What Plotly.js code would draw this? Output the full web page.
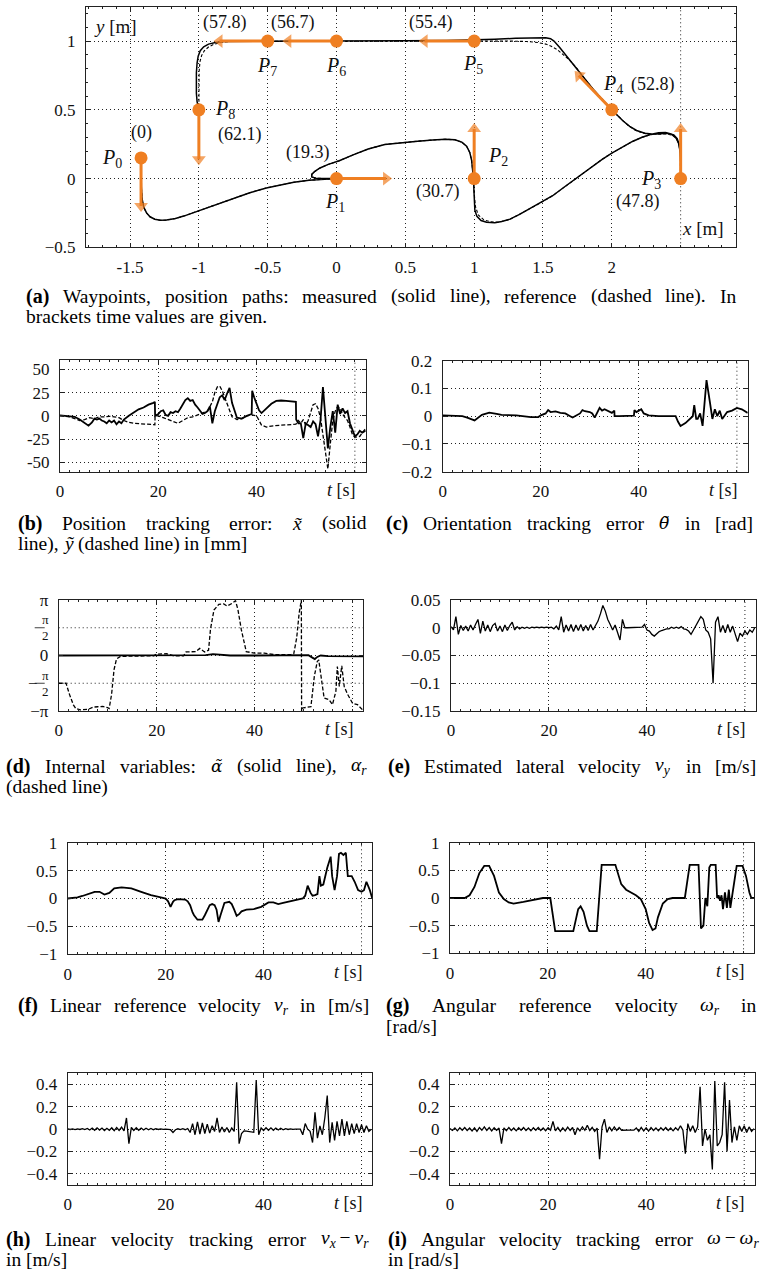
<!DOCTYPE html>
<html><head><meta charset="utf-8">
<script src="https://cdn.plot.ly/plotly-3.0.1.min.js"></script>
<style>html,body{margin:0;padding:0;background:#fff;}#plot{width:770px;height:1276px;}</style>
</head><body><div id="plot"></div>
<script>
// ---------------- DATA ----------------
// (a) waypoints (x,y in m), arrow tips, labels
const wpX = [-1.42, 0, 1, 2.5, 2, 1, 0, -0.5, -1];
const wpY = [0.15, 0, 0, 0, 0.5, 1, 1, 1, 0.5];
const wpTipX = [-1.42, 0.36, 1, 2.5, 1.76, 0.64, -0.35, -0.85, -1];
const wpTipY = [-0.2, 0, 0.36, 0.36, 0.75, 1, 1, 1, 0.14];
const wpNames = ['0','1','2','3','4','5','6','7','8'];
const wpNameX = [-1.633, -0.012, 1.173, 2.286, 2.01, 0.991, -0.007, -0.508, -0.81];
const wpNameY = [0.145, -0.172, 0.162, -0.007, 0.681, 0.826, 0.814, 0.814, 0.5];
const timeLabels = ['(0)','(19.3)','(30.7)','(47.8)','(52.8)','(55.4)','(56.7)','(57.8)','(62.1)'];
const timeLabelX = [-1.42, -0.206, 0.737, 2.189, 2.298, 0.689, -0.315, -0.81, -0.70];
const timeLabelY = [0.338, 0.186, -0.092, -0.164, 0.681, 1.133, 1.133, 1.133, 0.319];

// (a) measured path [x,y]
const pathMeasured = [
 [-1.42,0.15],[-1.42,0.05],[-1.418,-0.06],[-1.412,-0.15],[-1.40,-0.21],[-1.38,-0.25],[-1.355,-0.278],[-1.32,-0.296],[-1.28,-0.304],[-1.235,-0.302],[-1.17,-0.29],[-1.11,-0.273],[-1.03,-0.245],[-0.94,-0.213],[-0.85,-0.18],[-0.75,-0.142],[-0.63,-0.103],[-0.51,-0.068],[-0.41,-0.045],[-0.31,-0.027],[-0.2,-0.012],[-0.1,-0.004],[0,0],
 [-0.08,0.0],[-0.15,0.003],[-0.18,0.012],[-0.18,0.03],[-0.16,0.05],[-0.12,0.077],[-0.06,0.103],[0.02,0.13],[0.12,0.172],[0.23,0.215],[0.35,0.248],[0.47,0.262],[0.59,0.272],[0.70,0.28],[0.79,0.286],[0.86,0.282],[0.91,0.265],[0.945,0.235],[0.968,0.19],[0.982,0.13],[0.99,0.06],[0.995,0.0],[0.998,-0.08],[1.0,-0.16],[1.005,-0.23],[1.02,-0.275],[1.05,-0.305],[1.09,-0.318],[1.15,-0.321],[1.2,-0.313],[1.26,-0.295],[1.33,-0.26],[1.4,-0.222],[1.48,-0.178],[1.57,-0.125],[1.65,-0.065],[1.72,-0.013],[1.79,0.04],[1.86,0.09],[1.93,0.14],[2.0,0.185],[2.08,0.23],[2.15,0.27],[2.22,0.3],[2.28,0.32],[2.34,0.333],[2.39,0.335],[2.43,0.325],[2.465,0.3],[2.485,0.258],[2.497,0.19],[2.503,0.1],[2.505,0.0],
 [2.505,0.1],[2.5,0.17],[2.492,0.24],[2.475,0.29],[2.45,0.318],[2.41,0.33],[2.35,0.326],[2.29,0.324],[2.24,0.33],[2.18,0.35],[2.13,0.38],[2.08,0.42],[2.04,0.46],[2.0,0.5],[1.93,0.575],[1.86,0.655],[1.8,0.73],[1.74,0.81],[1.68,0.885],[1.62,0.955],[1.58,1.0],[1.555,1.017],[1.52,1.024],[1.45,1.024],[1.3,1.02],[1.15,1.013],[1.0,1.008],[0.8,1.004],[0.5,1.002],[0.2,1.001],[0.0,1.0],[-0.3,1.0],[-0.5,1.0],[-0.65,1.0],[-0.75,0.999],[-0.82,0.997],[-0.88,0.99],[-0.93,0.978],[-0.965,0.958],[-0.99,0.93],[-1.005,0.89],[-1.013,0.84],[-1.018,0.77],[-1.02,0.69],[-1.018,0.62],[-1.013,0.56],[-1.008,0.52],[-1.0,0.5]
];
// (a) reference path [x,y]
const pathReference = [
 [-1.42,0.15],[-1.42,0.05],[-1.418,-0.06],[-1.412,-0.15],[-1.40,-0.21],[-1.38,-0.25],[-1.355,-0.278],[-1.32,-0.296],[-1.28,-0.304],[-1.235,-0.302],[-1.17,-0.29],[-1.11,-0.273],[-1.03,-0.245],[-0.94,-0.213],[-0.85,-0.18],[-0.75,-0.142],[-0.63,-0.103],[-0.51,-0.068],[-0.41,-0.045],[-0.31,-0.027],[-0.2,-0.012],[-0.1,-0.004],[0,0],
 [-0.08,0.0],[-0.15,0.003],[-0.18,0.012],[-0.18,0.03],[-0.16,0.05],[-0.12,0.077],[-0.06,0.103],[0.02,0.13],[0.12,0.172],[0.23,0.215],[0.35,0.248],[0.47,0.262],[0.59,0.272],[0.70,0.28],[0.79,0.286],[0.86,0.282],[0.91,0.265],[0.945,0.235],[0.968,0.19],[0.982,0.13],[0.99,0.06],[0.995,0.0],[1.0,-0.1],[1.008,-0.2],[1.03,-0.265],[1.07,-0.3],[1.12,-0.315],[1.18,-0.318],[1.26,-0.297],[1.33,-0.26],[1.4,-0.222],[1.48,-0.178],[1.57,-0.125],[1.65,-0.065],[1.72,-0.013],[1.79,0.04],[1.86,0.09],[1.93,0.14],[2.0,0.185],[2.08,0.23],[2.15,0.27],[2.22,0.3],[2.28,0.318],[2.34,0.328],[2.4,0.33],[2.44,0.318],[2.47,0.29],[2.488,0.25],[2.497,0.18],[2.5,0.09],[2.5,0.0],
 [2.5,0.1],[2.497,0.18],[2.488,0.25],[2.47,0.29],[2.44,0.315],[2.4,0.325],[2.34,0.322],[2.28,0.322],[2.22,0.332],[2.17,0.352],[2.12,0.385],[2.07,0.428],[2.035,0.465],[2.0,0.5],[1.93,0.575],[1.86,0.655],[1.8,0.73],[1.74,0.81],[1.69,0.865],[1.64,0.91],[1.6,0.94],[1.56,0.962],[1.52,0.978],[1.46,0.99],[1.38,0.997],[1.25,1.0],[1.0,1.0],[0.5,1.0],[0.0,1.0],[-0.5,1.0],[-0.7,1.0],[-0.78,0.997],[-0.84,0.99],[-0.89,0.977],[-0.93,0.957],[-0.96,0.93],[-0.98,0.895],[-0.992,0.85],[-0.998,0.78],[-1.0,0.69],[-1.0,0.5]
];

// (b) position tracking error [mm]
const bxT = [0,1,2,3,4,5,5.8,6.5,7,7.5,8,8.5,9,9.5,10,10.5,11,11.5,12,12.5,13,14,15,16,17,18,19,19.3,19.35,20,20.5,21,21.5,22,22.5,23,23.5,24,24.5,25,25.5,26,26.5,27,27.5,28,28.5,29,29.5,30,30.5,31,31.5,32,32.5,33,33.5,34,34.5,35,35.5,36,37,38,39,39.1,39.5,40,40.5,41,42,43,44,45,46,47,48,48.05,48.5,49,49.5,50,50.5,51,51.5,52,52.5,53,53.5,53.8,54,54.5,55,55.5,56,56.5,57,57.5,58,58.5,59,59.5,60,60.5,61,61.5,62,62.2];
const bxV = [0.5,0,-1,-1,-4,-8,-10.5,-7,-3,-4,-3,-5,-6,-8,-5,-7,-5,-9,-6,-8,-4,0,4,7,9,12,14,15,0,2,5,6,1,0,4,3,5,4,8,12,17,19,16,17,12,9,5,2,3,5,10,-8,5,12,20,22,17,24,30,14,5,-2,-3,0,2,27,20,13,6,3,8,13,16,16.5,16,15.5,15,-4,-8,-8,-24,-8,-10,-12,-6,-9,-22,-5,31,10,-10,-35,-12,5,-18,12,2,8,3,5,-8,-15,-22,-20,-16,-18,-17,-16];
const byT = [0,2,3,4,5,6,7,8,9,10,11,12,13,14,15,17,19.3,19.35,20,21,22,23,24,25,26,27,28,29,30,31,31.5,32,32.5,33,33.5,34,34.5,35,36,37,38,39,40,40.5,41,42,43,45,47,48,48.5,49,49.5,50,50.5,51,51.5,52,52.5,53,53.5,54,54.5,55,55.5,56,56.5,57,57.5,58,58.5,59,59.5,60,61,61.5,62,62.2];
const byV = [0,-1,-3,-5,-4,-2,-3,-1,-1,-0.5,-1,-2,-5,-7,-8,-8.5,-9.5,0,0,-2,-4,-6,-8,-5,-2,-1,1,3,5,15,25,31,32,27,20,12,5,-1,-4,-3,0,1,0,-5,-10,-12,-11,-10,-9,-9,-5,-8,-4,-10,-5,5,12,13,8,-2,-20,-40,-57,-30,-5,5,10,8,2,-2,-5,-12,-20,-23,-22,-18,-15,-16];

// (c) orientation tracking error [rad]
const cT = [0,4,5,6.5,8,9.5,11,12,15,18,19.5,20,21,21.5,22,23,24,25,26,26.5,28,28.5,29,30,30.5,31,32,32.5,33,34.5,35,35.05,36,38,39,39.1,39.5,40,40.5,41,42,44,47.5,48,48.5,49.5,50.5,51,51.3,51.7,52,52.5,53,53.8,54.5,55,55.5,56,56.5,57,58,59,60,61,62.2];
const cV = [0.003,0,-0.005,-0.015,0.005,0.013,0.008,0.005,0.003,-0.003,-0.003,0.003,0.01,0.022,0.015,0.017,0.012,0.01,0,-0.005,0.01,0.022,0.018,0.015,0.01,-0.005,0.03,0.02,0.025,0.012,0.02,0,0,0.002,0.002,0.022,0.015,0.02,0.025,0.01,0.003,0,0,-0.02,-0.035,-0.025,-0.01,0,0.04,-0.01,-0.01,0.01,-0.035,0.13,0.05,-0.01,0.025,0,0.02,-0.01,0.015,0.02,0.03,0.025,0.012];

// (d) internal variables [rad]
const dAlphaT = [0,10,20,30,31.5,32.5,33.5,35,40,45,50,51,51.8,52.3,52.8,53.5,55,58,62.2];
const dAlphaV = [0,0,0,0.02,0.08,0.06,0.02,0,0,0,0.02,0.02,-0.12,-0.2,-0.08,0,-0.03,-0.05,-0.05];
const dAlphaRT = [0,1.5,2.2,3,3.5,4.4,6,7,8,9,10,10.3,10.8,11.3,11.8,12.6,14,16,18,19.4,20,22,23.5,25.5,26,28,28.8,29.8,30.6,31,31.7,32.7,33.7,34.4,35.4,36.1,36.6,37.3,38.3,40,42,44,47.4,48,48.6,49.1,49.55,49.6,49.8,51.5,52.2,52.8,53.1,53.7,54.2,55.2,55.9,56.6,56.9,57.3,57.8,58.3,59,60,61,62,62.2];
const dAlphaRV = [-1.571,-1.571,-2.2,-2.8,-3.0,-3.08,-3.05,-2.92,-2.9,-2.88,-2.95,-3.0,-2.2,-0.8,-0.2,-0.05,-0.04,-0.03,-0.02,-0.02,0.08,0.1,-0.02,-0.02,0.2,0.22,0.4,0.2,0.3,1.5,2.57,2.9,2.92,2.8,2.95,3.1,2.6,1.45,0.22,0.13,0.13,0.05,0.05,0.1,1.0,2.4,3.14,-3.14,-2.97,-2.9,-1.18,-0.34,-0.25,-1.37,-2.41,-2.5,-2.78,-2.03,-0.62,-1.75,-0.58,-1.75,-2.2,-2.7,-2.78,-3.06,-3.14];

// shared sample times (0.5 s) for the noisy signals (e), (h), (i)
const tGrid = [0,0.5,1,1.5,2,2.5,3,3.5,4,4.5,5,5.5,6,6.5,7,7.5,8,8.5,9,9.5,10,10.5,11,11.5,12,12.5,13,13.5,14,14.5,15,15.5,16,16.5,17,17.5,18,18.5,19,19.5,20,20.5,21,21.5,22,22.5,23,23.5,24,24.5,25,25.5,26,26.5,27,27.5,28,28.5,29,29.5,30,30.5,31,31.5,32,32.5,33,33.5,34,34.5,35,35.5,36,36.5,37,37.5,38,38.5,39,39.5,40,40.5,41,41.5,42,42.5,43,43.5,44,44.5,45,45.5,46,46.5,47,47.5,48,48.5,49,49.5,50,50.5,51,51.5,52,52.5,53,53.5,54,54.5,55,55.5,56,56.5,57,57.5,58,58.5,59,59.5,60,60.5,61,61.5,62];
// (e) estimated lateral velocity [m/s]
const eVy = [
 0.002,-0.004,0.02,-0.012,0.004,-0.005,0.003,-0.006,0.005,-0.004,
 0.006,0.015,-0.01,0.012,-0.006,0.005,-0.007,0.004,0.008,-0.006,
 0.003,-0.007,0.005,-0.005,0.004,0.01,-0.004,0.002,-0.002,0.001,
 -0.001,0.001,-0.001,0.001,0,0.001,0,0.001,0,0.001,
 0,0.001,-0.002,0.003,-0.004,0.02,-0.008,0.005,-0.006,0.006,
 -0.007,0.005,-0.005,0.006,-0.006,0.004,-0.005,0.006,-0.004,0.005,
 0.012,0.025,0.04,0.03,0.015,0.006,-0.004,0.005,-0.01,-0.022,
 0.015,0,0,0,0,0,0,0,0.001,0.006,
 -0.004,-0.006,-0.012,-0.015,-0.01,-0.007,-0.005,-0.003,-0.002,-0.002,
 0.001,-0.001,0.001,-0.001,0.002,-0.002,-0.003,-0.006,-0.012,-0.004,
 0.005,0.012,0.02,0.015,-0.004,-0.008,-0.02,-0.1,0.01,0.02,
 -0.008,0.004,-0.009,0.006,-0.008,0.003,-0.012,-0.025,-0.01,-0.015,
 -0.006,-0.012,-0.004,-0.008,0.0];
// (h) linear velocity tracking error [m/s]
const hErr = [
 0.002,-0.003,0.003,-0.004,0.003,-0.003,0.004,-0.004,0.006,-0.008,
 0.01,-0.01,0.012,-0.008,0.01,-0.012,0.008,-0.01,0.012,-0.014,
 0.015,-0.012,0.018,-0.015,0.1,-0.13,0.015,-0.012,0.012,-0.01,
 0.01,-0.008,0.008,-0.006,0.006,-0.005,0.004,-0.003,0.003,-0.002,
 0.001,0,-0.005,-0.03,-0.005,0.003,-0.004,0.004,-0.005,0.006,
 -0.03,0.05,-0.05,0.065,-0.045,0.055,-0.04,0.045,-0.035,0.03,
 -0.02,0.1,-0.03,0.02,-0.025,0.015,-0.03,0.01,-0.02,0.42,
 -0.13,-0.04,-0.015,-0.018,-0.021,-0.024,-0.028,0.44,-0.05,0.01,
 -0.012,0.012,-0.01,0.012,-0.01,0.01,-0.008,0.008,-0.006,0.004,
 -0.003,0.002,-0.002,0.001,0,0,-0.05,0.05,0.0,-0.02,
 -0.12,0.15,-0.08,0.03,-0.05,0.1,0.3,-0.12,0.06,-0.1,
 0.07,-0.06,0.09,-0.06,0.07,-0.05,0.05,-0.04,0.05,-0.03,
 0.04,-0.03,0.03,-0.02,0.0];
// (i) angular velocity tracking error [rad/s]
const iErr = [
 0.005,-0.012,0.01,-0.015,0.012,-0.01,0.014,-0.012,0.01,-0.016,
 0.012,-0.02,0.015,-0.01,0.02,-0.012,0.014,-0.015,0.012,-0.01,
 0.01,-0.13,0.012,-0.014,0.015,-0.012,0.01,-0.015,0.012,-0.01,
 0.014,-0.012,0.01,-0.015,0.012,-0.01,0.014,-0.012,0.01,-0.014,
 0.012,-0.01,0.07,-0.015,0.015,-0.02,0.012,-0.015,0.018,-0.012,
 0.015,-0.05,0.012,-0.015,0.02,-0.01,0.035,-0.012,0.015,-0.02,
 0.01,-0.27,0.02,0.09,-0.03,0.02,-0.015,0.02,-0.012,0.015,
 -0.01,-0.008,-0.008,-0.008,-0.009,-0.009,0.01,-0.02,0.015,-0.015,
 0.012,-0.018,0.015,-0.012,0.01,-0.015,0.012,-0.01,0.015,-0.012,
 0.01,-0.015,0.012,-0.01,0.03,-0.01,-0.22,0.05,-0.02,0.03,
 -0.03,0.02,0.38,-0.15,0.0,-0.1,-0.05,-0.36,0.43,-0.15,
 -0.12,-0.05,0.42,-0.2,0.26,-0.12,0.02,-0.1,0.03,-0.02,
 0.03,-0.03,0.02,-0.02,0.005];

// (f) linear reference velocity [m/s]
const fT = [0,1,2,3,4,5,5.5,6.5,7.5,8.5,9.5,11,13,15,17,19,20,20.5,21,21.5,21.8,22.5,23,24,24.5,25,25.5,25.8,26.5,27.5,28,28.5,29,29.5,30,30.4,30.8,31.2,31.5,32,33,33.5,34,34.5,35,35.5,36.5,38,39.5,40.5,41,42,43,44,46,48,48.5,49,49.6,50,50.5,51,51.4,51.7,52.2,52.6,53,53.7,54,54.5,55,55.4,55.8,56.3,56.8,57.2,58,58.6,59.3,60,60.5,61,61.7,62.2];
const fV = [0,0.01,0.02,0.045,0.07,0.1,0.12,0.12,0.07,0.1,0.18,0.2,0.18,0.12,0.06,0.02,0,-0.05,-0.15,-0.06,-0.03,-0.01,-0.01,-0.02,-0.05,-0.12,-0.25,-0.3,-0.38,-0.38,-0.3,-0.2,-0.12,-0.1,-0.12,-0.2,-0.42,-0.3,-0.2,-0.08,-0.06,-0.1,-0.2,-0.31,-0.28,-0.23,-0.2,-0.19,-0.15,-0.1,-0.07,-0.07,-0.1,-0.08,-0.04,0,0.05,0.23,0.1,0.05,0.06,0.08,0.4,0.23,0.25,0.4,0.55,0.75,0.4,0.15,0.4,0.8,0.82,0.78,0.82,0.4,0.4,0.3,0.15,0.12,0.15,0.3,0.15,0.0];
// (g) angular reference velocity [rad/s]
const gT = [0,3,4,5,6,7,8,9,10,11,12,13,15,17,19,20.5,21,21.5,25.2,25.7,26.2,26.7,27.3,28,28.5,30,30.5,31,33.8,34.5,35,36,37,38,39,40,40.7,41.4,42,42.5,43.5,44.5,45.5,48,48.5,49,50.8,51,51.3,51.8,52.2,52.6,53,53.3,54.3,54.6,54.9,55.2,55.5,55.8,56.2,56.6,57,57.3,57.6,58,58.6,59.8,60.5,61.2,61.6,62.2];
const gV = [0,0,0.05,0.2,0.45,0.58,0.58,0.4,0.1,-0.02,-0.08,-0.1,-0.07,-0.03,0,0,-0.3,-0.6,-0.6,-0.4,-0.2,-0.15,-0.25,-0.5,-0.6,-0.6,0,0.6,0.6,0.4,0.25,0.15,0.1,0.05,-0.02,-0.2,-0.45,-0.58,-0.55,-0.35,-0.1,-0.02,0,0,0.3,0.6,0.6,0.2,-0.55,-0.5,0,-0.15,0.55,0.6,0.6,0.0,0.05,-0.05,0.05,-0.2,0.1,-0.18,0.15,-0.18,0.0,0.3,0.58,0.58,0.4,0.1,0.0,0];

// tick values / labels
const tTickVals = [0,20,40];
const tTickText = ['0','20','40'];

// ---------------- LAYOUT / STYLE ----------------
const W = 770, H = 1276;
const FONT = 'Liberation Serif, serif';
const CFONT = '"Liberation Serif"';
const GFONT = 'DejaVu Serif, serif';     // used for Greek letters carrying a combining tilde
const ORANGE = '#EF7F22';
const INK = '#111';
const GRID = {color:'#222', width:1, dash:'1px,3px'};
const TICK = 17, CAP = 19.5, LAB = 20, LINE2 = 20.5;

const panels = {
  a:{n:'',  px:[86,735.7],   py:[6.7,247.3]},
  b:{n:'2', px:[60,365.7],   py:[360,471.7]},
  c:{n:'3', px:[442.7,747.7],py:[360.7,471.7]},
  d:{n:'4', px:[58.7,363.3], py:[600,711]},
  e:{n:'5', px:[451,755.7],  py:[600,711]},
  f:{n:'6', px:[67.7,372.3], py:[842.7,954.3]},
  g:{n:'7', px:[450,754.3],  py:[842.7,953.3]},
  h:{n:'8', px:[67.7,372.3], py:[1073.3,1185]},
  i:{n:'9', px:[450,755],    py:[1073.3,1185]}
};
const PX = v => v / W, PY = v => 1 - v / H;

function axBase(extra){
  return Object.assign({
    showline:true, linecolor:'#222', linewidth:1, mirror:'ticks',
    ticks:'inside', ticklen:4, tickcolor:'#222', tickwidth:1,
    showgrid:true, gridcolor:GRID.color, griddash:GRID.dash, gridwidth:1,
    zeroline:false, fixedrange:true,
    tickfont:{family:FONT, size:TICK, color:INK}
  }, extra);
}
const layout = {
  width:W, height:H, margin:{l:0,r:0,t:0,b:0},
  paper_bgcolor:'#fff', plot_bgcolor:'#fff', showlegend:false,
  font:{family:FONT, color:INK},
  annotations:[], shapes:[]
};
function setAxes(key, xo, yo){
  const p = panels[key];
  layout['xaxis'+p.n] = axBase(Object.assign({domain:[PX(p.px[0]),PX(p.px[1])], anchor:'y'+p.n, ticklabelstandoff:4}, xo));
  layout['yaxis'+p.n] = axBase(Object.assign({domain:[PY(p.py[1]),PY(p.py[0])], anchor:'x'+p.n, ticklabelstandoff:6}, yo));
}
function gridShape(key, dir, v){
  const n = panels[key].n;
  if (dir === 'x') layout.shapes.push({type:'line', layer:'below', xref:'x'+n, yref:'y'+n+' domain', x0:v, x1:v, y0:0, y1:1, line:GRID});
  else layout.shapes.push({type:'line', layer:'below', xref:'x'+n+' domain', yref:'y'+n, x0:0, x1:1, y0:v, y1:v, line:GRID});
}
const tAxis = {range:[0,62.2], tickmode:'array', tickvals:tTickVals, ticktext:tTickText,
  minor:{ticks:'inside', ticklen:2, tickcolor:'#222', dtick:2, showgrid:false}};
setAxes('a',
  {range:[-1.82,2.9], tickmode:'array', tickvals:[-1.5,-1,-0.5,0,0.5,1,1.5,2], ticktext:['-1.5','-1','-0.5','0','0.5','1','1.5','2'],
   minor:{ticks:'inside', ticklen:2, tickcolor:'#222', dtick:0.1, showgrid:false}},
  {range:[-0.5,1.25], tickmode:'array', tickvals:[-0.5,0,0.5,1], ticktext:['\u22120.5','0','0.5','1'],
   minor:{ticks:'inside', ticklen:2, tickcolor:'#222', dtick:0.1, showgrid:false}});
gridShape('a','x',2.5);
setAxes('b', tAxis, {range:[-60,60], tickmode:'array', tickvals:[-50,-25,0,25,50], ticktext:['-50','-25','0','25','50']});
setAxes('c', tAxis, {range:[-0.2,0.2], tickmode:'array', tickvals:[-0.2,-0.1,0,0.1,0.2], ticktext:['\u22120.2','\u22120.1','0','0.1','0.2']});
setAxes('d', tAxis, {range:[-Math.PI,Math.PI], tickmode:'array', tickvals:[-Math.PI,0,Math.PI], ticktext:['\u2212\u03c0','0','\u03c0']});
gridShape('d','y',Math.PI/2); gridShape('d','y',-Math.PI/2);
setAxes('e', tAxis, {range:[-0.15,0.05], tickmode:'array', tickvals:[-0.15,-0.1,-0.05,0,0.05], ticktext:['\u22120.15','\u22120.1','\u22120.05','0','0.05']});
setAxes('f', tAxis, {range:[-1,1], tickmode:'array', tickvals:[-1,-0.5,0,0.5,1], ticktext:['\u22121','\u22120.5','0','0.5','1']});
setAxes('g', tAxis, {range:[-1,1], tickmode:'array', tickvals:[-1,-0.5,0,0.5,1], ticktext:['\u22121','\u22120.5','0','0.5','1']});
setAxes('h', tAxis, {range:[-0.5,0.5], tickmode:'array', tickvals:[-0.4,-0.2,0,0.2,0.4], ticktext:['\u22120.4','\u22120.2','0','0.2','0.4']});
setAxes('i', tAxis, {range:[-0.5,0.5], tickmode:'array', tickvals:[-0.4,-0.2,0,0.2,0.4], ticktext:['\u22120.4','\u22120.2','0','0.2','0.4']});
['b','c','d','e','f','g','h','i'].forEach(k=>gridShape(k,'x',60));

// ---------------- TRACES ----------------
const traces = [];
function line(key, x, y, w, dash){
  const n = panels[key].n;
  traces.push({type:'scatter', mode:'lines', x:x, y:y, xaxis:'x'+n, yaxis:'y'+n,
    line:{color:'#000', width:w, dash:dash||'solid'}, hoverinfo:'skip'});
}
line('a', pathReference.map(p=>p[0]), pathReference.map(p=>p[1]), 1.1, '3px,2px');
line('a', pathMeasured.map(p=>p[0]), pathMeasured.map(p=>p[1]), 1.5);
// waypoint heading arrows: shaft + triangular head oriented along the shaft
for (let k = 0; k < wpX.length; k++){
  traces.push({type:'scatter', mode:'lines+markers', x:[wpX[k], wpTipX[k]], y:[wpY[k], wpTipY[k]], xaxis:'x', yaxis:'y',
    line:{color:ORANGE, width:3}, marker:{symbol:'triangle-up', size:[0,12], color:ORANGE, angleref:'previous', line:{width:0}},
    hoverinfo:'skip'});
}
traces.push({type:'scatter', mode:'markers', x:wpX, y:wpY, xaxis:'x', yaxis:'y',
  marker:{size:13, color:ORANGE, line:{width:0}}, hoverinfo:'skip'});
line('b', byT, byV, 1.3, '4px,2px');
line('b', bxT, bxV, 1.8);
line('c', cT, cV, 1.8);
line('d', dAlphaRT, dAlphaRV, 1.3, '4px,2px');
line('d', dAlphaT, dAlphaV, 1.8);
line('e', tGrid, eVy, 1.3);
line('f', fT, fV, 1.8);
line('g', gT, gV, 1.8);
line('h', tGrid, hErr, 1.3);
line('i', tGrid, iErr, 1.3);

// ---------------- ANNOTATIONS ----------------
const A = layout.annotations;
for (let k = 0; k < wpX.length; k++){
  A.push({xref:'x', yref:'y', x:wpNameX[k], y:wpNameY[k], text:'<i>P</i><sub>'+wpNames[k]+'</sub>', showarrow:false,
    font:{family:FONT, size:20, color:INK}});
  A.push({xref:'x', yref:'y', x:timeLabelX[k], y:timeLabelY[k], text:timeLabels[k], showarrow:false,
    font:{family:FONT, size:18, color:INK}});
}
A.push({xref:'x', yref:'y', x:-1.609, y:1.104, text:'<i>y</i> [m]', showarrow:false, font:{family:FONT, size:19, color:INK}});
A.push({xref:'x', yref:'y', x:2.66, y:-0.365, text:'<i>x</i> [m]', showarrow:false, font:{family:FONT, size:19, color:INK}});

// t [s] labels
['b','c','d','e','f','g','h','i'].forEach(k=>{
  const p = panels[k];
  A.push({xref:'x'+p.n, yref:'paper', x:60, xanchor:'right', xshift:3, y:PY(p.py[1]+18), yanchor:'middle',
    text:'<i>t</i> [s]', showarrow:false, font:{family:FONT, size:TICK+1, color:INK}});
});

// pi/2 fraction tick labels for (d)
[Math.PI/2, -Math.PI/2].forEach(v=>{
  const cx = PX(panels.d.px[0]-19);
  A.push({xref:'paper', yref:'y4', x:cx, y:v, yshift:8, text:'\u03c0', showarrow:false, font:{family:FONT, size:13, color:INK}});
  A.push({xref:'paper', yref:'y4', x:cx, y:v, yshift:-8, text:'2', showarrow:false, font:{family:FONT, size:13, color:INK}});
  layout.shapes.push({type:'line', xref:'paper', yref:'y4', x0:PX(panels.d.px[0]-24), x1:PX(panels.d.px[0]-14), y0:v, y1:v, line:{color:INK, width:0.8}});
  if (v < 0) A.push({xref:'paper', yref:'y4', x:PX(panels.d.px[0]-33), y:v, text:'\u2212', showarrow:false, font:{family:FONT, size:TICK, color:INK}});
});

// captions (word widths measured with canvas so lines can be justified to the reference extents)
const cv = document.createElement('canvas').getContext('2d');
function textW(html, size, bold, fam){
  const subs = [];
  const main = html.replace(/<sub>(.*?)<\/sub>/g, (m, s)=>{ subs.push(s.replace(/<[^>]+>/g,'')); return ''; }).replace(/<[^>]+>/g,'');
  cv.font = (bold?'bold ':'') + size + 'px ' + fam;
  let w = cv.measureText(main).width;
  cv.font = Math.round(size*0.7) + 'px ' + fam;
  subs.forEach(s=>{ w += cv.measureText(s).width; });
  return w;
}
function captionLine(text, x0, x1, yc, justify, firstIsLabel){
  const raw = text.split(' ');
  const items = raw.map((w,i)=>{
    const greek = w.charAt(0) === '\u00a7';
    const word = greek ? w.slice(1) : w;
    const isLab = firstIsLabel && i === 0;
    const size = isLab ? LAB : (greek ? CAP - 2.5 : CAP);
    return {word, greek, isLab, size,
      fam: greek ? GFONT : FONT,
      width: textW(word, size, isLab, greek ? '"DejaVu Serif"' : CFONT)};
  });
  const total = items.reduce((a,b)=>a+b.width,0);
  cv.font = CAP + 'px ' + CFONT;
  const sp = cv.measureText(' ').width;
  let gap = (justify && items.length>1) ? (x1-x0-total)/(items.length-1) : sp;
  if (gap < sp*0.8) gap = sp*0.8;
  let x = x0;
  items.forEach(it=>{
    A.push({xref:'paper', yref:'paper', x:PX(x), y:PY(yc), xanchor:'left', yanchor:'middle',
      text: it.isLab ? '<b>'+it.word+'</b>' : it.word, showarrow:false, borderpad:0,
      font:{family:it.fam, size:it.size, color:'#000'}});
    x += it.width + gap;
  });
}
const captions = [
  {x0:25,  x1:735, y:296, l1:'(a) Waypoints, position paths: measured (solid line), reference (dashed line). In', l2:'brackets time values are given.'},
  {x0:17,  x1:365, y:523, l1:'(b) Position tracking error: <i>x\u0303</i> (solid', l2:'line), <i>\u1ef9</i> (dashed line) in [mm]'},
  {x0:385, x1:752, y:523, l1:'(c) Orientation tracking error \u00a7<i>\u03b8\u0303</i> in [rad]'},
  {x0:5,   x1:365, y:766, l1:'(d) Internal variables: \u00a7<i>\u03b1\u0303</i> (solid line), <i>\u03b1</i><sub><i>r</i></sub>', l2:'(dashed line)'},
  {x0:387, x1:755, y:766, l1:'(e) Estimated lateral velocity <i>v</i><sub><i>y</i></sub> in [m/s]'},
  {x0:17,  x1:368, y:1006, l1:'(f) Linear reference velocity <i>v</i><sub><i>r</i></sub> in [m/s]'},
  {x0:385, x1:755, y:1006, l1:'(g) Angular reference velocity <i>\u03c9</i><sub><i>r</i></sub> in', l2:'[rad/s]'},
  {x0:5,   x1:370, y:1239, l1:'(h) Linear velocity tracking error <i>v</i><sub><i>x</i></sub>\u2009\u2212\u2009<i>v</i><sub><i>r</i></sub>', l2:'in [m/s]'},
  {x0:387, x1:755, y:1239, l1:'(i) Angular velocity tracking error <i>\u03c9</i>\u2009\u2212\u2009<i>\u03c9</i><sub><i>r</i></sub>', l2:'in [rad/s]'}
];
captions.forEach(c=>{
  captionLine(c.l1, c.x0, c.x1, c.y, true, true);
  if (c.l2) captionLine(c.l2, c.x0, c.x1, c.y+LINE2, false, false);
});

Plotly.newPlot('plot', traces, layout, {staticPlot:true, displayModeBar:false});
</script></body></html>
